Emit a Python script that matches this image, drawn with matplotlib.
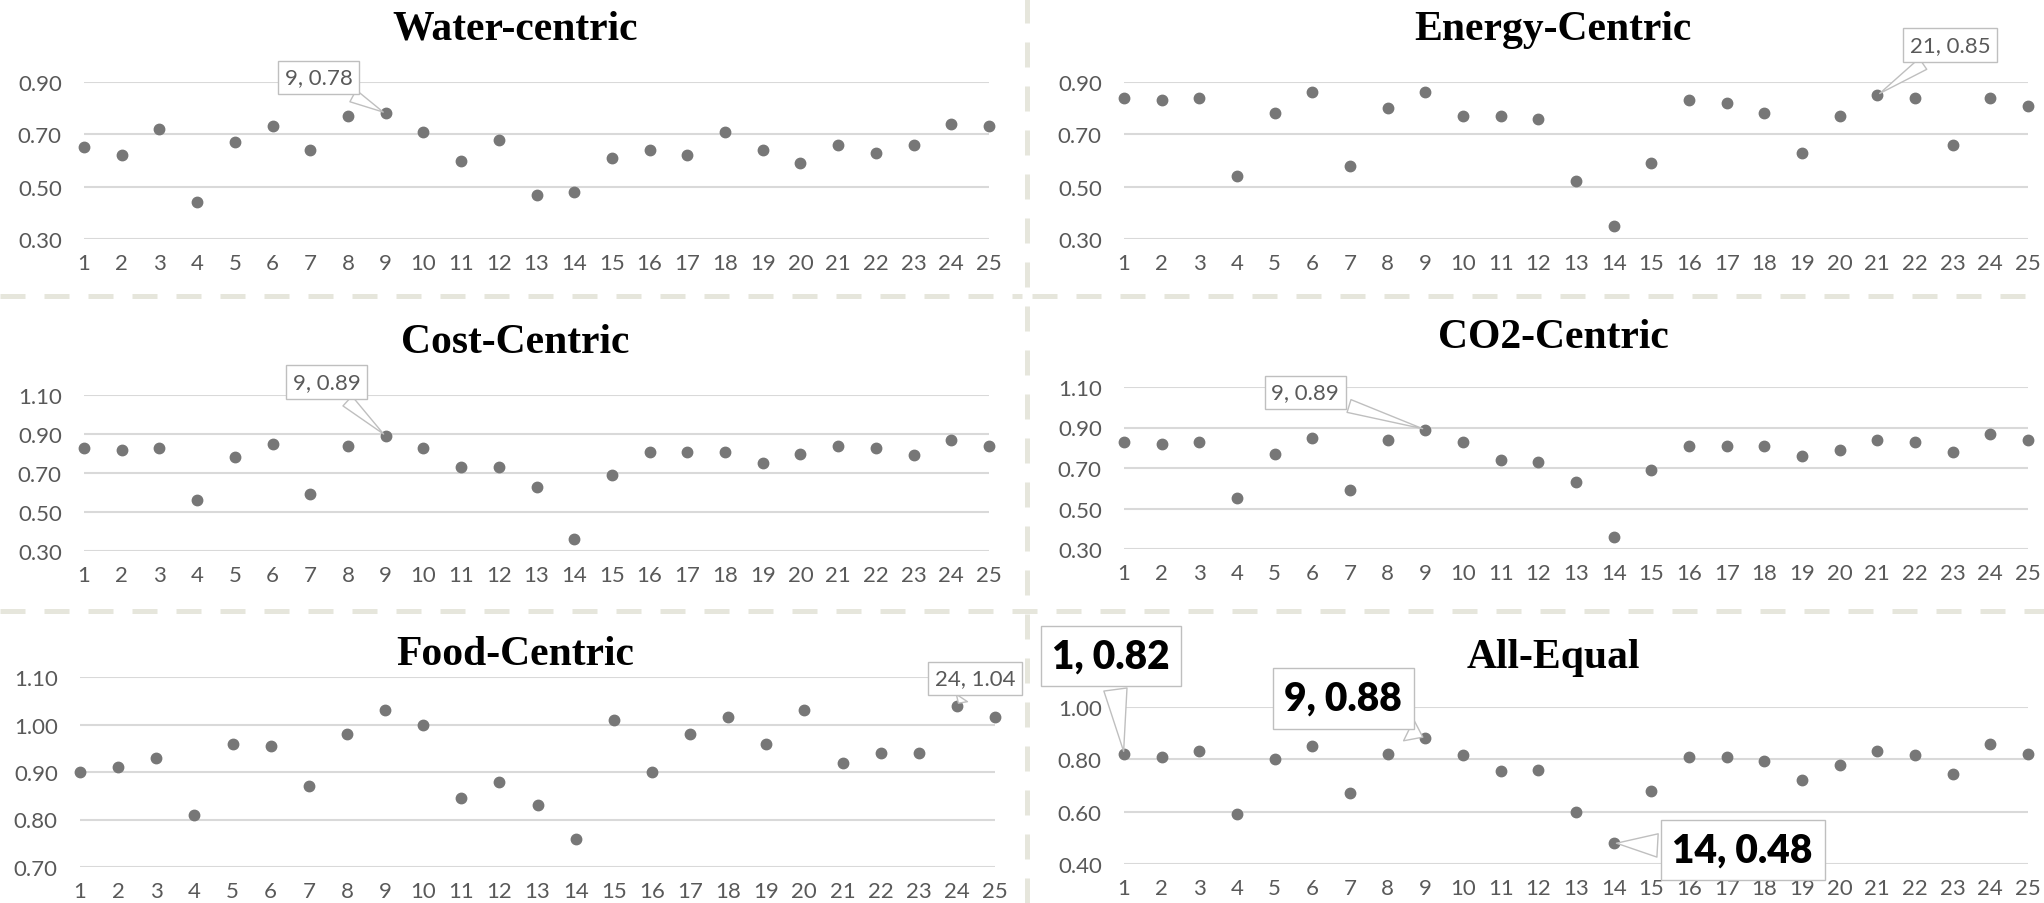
# Desempenho dos 25 cenários sob seis esquemas de ponderação (gráfico de dispersão 3x2)

import numpy as np
import matplotlib.pyplot as plt
from matplotlib.lines import Line2D

scenarios = list(range(1, 26))

water = [0.65, 0.62, 0.72, 0.44, 0.67, 0.73, 0.64, 0.77, 0.78, 0.71, 0.60, 0.68, 0.47,
         0.48, 0.61, 0.64, 0.62, 0.71, 0.64, 0.59, 0.66, 0.63, 0.66, 0.74, 0.73]
energy = [0.84, 0.83, 0.84, 0.54, 0.78, 0.86, 0.58, 0.80, 0.86, 0.77, 0.77, 0.76, 0.52,
          0.35, 0.59, 0.83, 0.82, 0.78, 0.63, 0.77, 0.85, 0.84, 0.66, 0.84, 0.81]
cost = [0.83, 0.82, 0.83, 0.56, 0.78, 0.85, 0.59, 0.84, 0.89, 0.83, 0.73, 0.73, 0.63,
        0.36, 0.69, 0.81, 0.81, 0.81, 0.75, 0.80, 0.84, 0.83, 0.79, 0.87, 0.84]
co2 = [0.83, 0.82, 0.83, 0.55, 0.77, 0.85, 0.59, 0.84, 0.89, 0.83, 0.74, 0.73, 0.63,
       0.36, 0.69, 0.81, 0.81, 0.81, 0.76, 0.79, 0.84, 0.83, 0.78, 0.87, 0.84]
food = [0.90, 0.91, 0.93, 0.81, 0.96, 0.955, 0.87, 0.98, 1.03, 1.00, 0.845, 0.88, 0.83,
        0.76, 1.01, 0.90, 0.98, 1.015, 0.96, 1.03, 0.92, 0.94, 0.94, 1.04, 1.015]
equal = [0.82, 0.81, 0.83, 0.59, 0.80, 0.85, 0.67, 0.82, 0.88, 0.815, 0.755, 0.76, 0.60,
         0.48, 0.68, 0.81, 0.81, 0.795, 0.72, 0.78, 0.83, 0.815, 0.745, 0.86, 0.82]

titles = ['Water-centric', 'Energy-Centric', 'Cost-Centric', 'CO2-Centric', 'Food-Centric', 'All-Equal']
series = [water, energy, cost, co2, food, equal]
yticks = [[0.30, 0.50, 0.70, 0.90],
          [0.30, 0.50, 0.70, 0.90],
          [0.30, 0.50, 0.70, 0.90, 1.10],
          [0.30, 0.50, 0.70, 0.90, 1.10],
          [0.70, 0.80, 0.90, 1.00, 1.10],
          [0.40, 0.60, 0.80, 1.00]]

# rótulos destacados: (cenário, deslocamento em pixels, negrito)
callouts = [
    [(9, (-67, 36), False)],
    [(21, (73, 50), False)],
    [(9, (-59, 54), False)],
    [(9, (-120, 37), False)],
    [(24, (18, 27), False)],
    [(1, (-13, 98), True), (9, (-82, 40), True), (14, (129, -7), True)],
]

W, H = 2044, 904
# caixas dos eixos em pixels: esquerda, topo, direita, base
boxes = [(84, 83, 989, 240), (1124, 83, 2028, 240),
         (84, 396, 989, 552), (1124, 388, 2028, 550),
         (80, 678, 995, 868), (1124, 708, 2028, 865)]
title_pos = [(515, 30), (1553, 30), (515, 343), (1553, 338), (515, 655), (1553, 658)]

fig = plt.figure(figsize=(W / 100, H / 100), dpi=100)
tick_font = 'Lato'
grey = '#595959'

for i in range(6):
    l, t, r, b = boxes[i]
    ax = fig.add_axes([l / W, 1 - b / H, (r - l) / W, (b - t) / H])
    vals = series[i]
    ax.plot(scenarios, vals, 'o', color='#777777', markersize=7.5, clip_on=False, zorder=3)
    ax.set_xlim(1, 25)
    ax.set_ylim(yticks[i][0], yticks[i][-1])
    ax.set_xticks(scenarios)
    ax.set_xticklabels([str(s) for s in scenarios])
    ax.set_yticks(yticks[i])
    ax.set_yticklabels([f'{v:.2f}' for v in yticks[i]])
    ax.tick_params(length=0, labelsize=16, labelcolor=grey, pad=10)
    ax.tick_params(axis='y', pad=16)
    for lab in ax.get_xticklabels() + ax.get_yticklabels():
        lab.set_fontfamily(tick_font)
    ax.grid(axis='y', color='#d9d9d9', lw=1.5)
    ax.set_axisbelow(True)
    for s in ax.spines.values():
        s.set_visible(False)
    ax.patch.set_alpha(0)

    for sc, off, bold in callouts[i]:
        v = vals[sc - 1]
        ax.annotate(f'{sc}, {v:.2f}', xy=(sc, v), xytext=off, textcoords='offset pixels',
                    ha='center', va='center', fontfamily=tick_font,
                    fontsize=28 if bold else 16,
                    fontweight='heavy' if bold else 'normal',
                    color='black' if bold else grey,
                    bbox=dict(boxstyle='square,pad=0.3', fc='white', ec='#bfbfbf', lw=1),
                    arrowprops=dict(arrowstyle='wedge,tail_width=0.6,shrink_factor=0.5',
                                    fc='white', ec='#bfbfbf', lw=1),
                    zorder=5, annotation_clip=False)

    tx, ty = title_pos[i]
    fig.text(tx / W, 1 - ty / H, titles[i], ha='center', va='center',
             fontfamily='Liberation Serif', fontweight='bold', fontsize=30, color='black')

# separadores tracejados entre os painéis
sep = dict(color='#e6e6dc', lw=3.6, dashes=(5, 3.8), transform=fig.transFigure)
fig.add_artist(Line2D([1027 / W, 1027 / W], [0, 1], **sep))
fig.add_artist(Line2D([0, 1022 / W], [1 - 297 / H, 1 - 297 / H], **sep))
fig.add_artist(Line2D([1032 / W, 1], [1 - 297 / H, 1 - 297 / H], **sep))
fig.add_artist(Line2D([0, 1], [1 - 612 / H, 1 - 612 / H], **sep))

fig.savefig('out.png', dpi=100, facecolor='white')
